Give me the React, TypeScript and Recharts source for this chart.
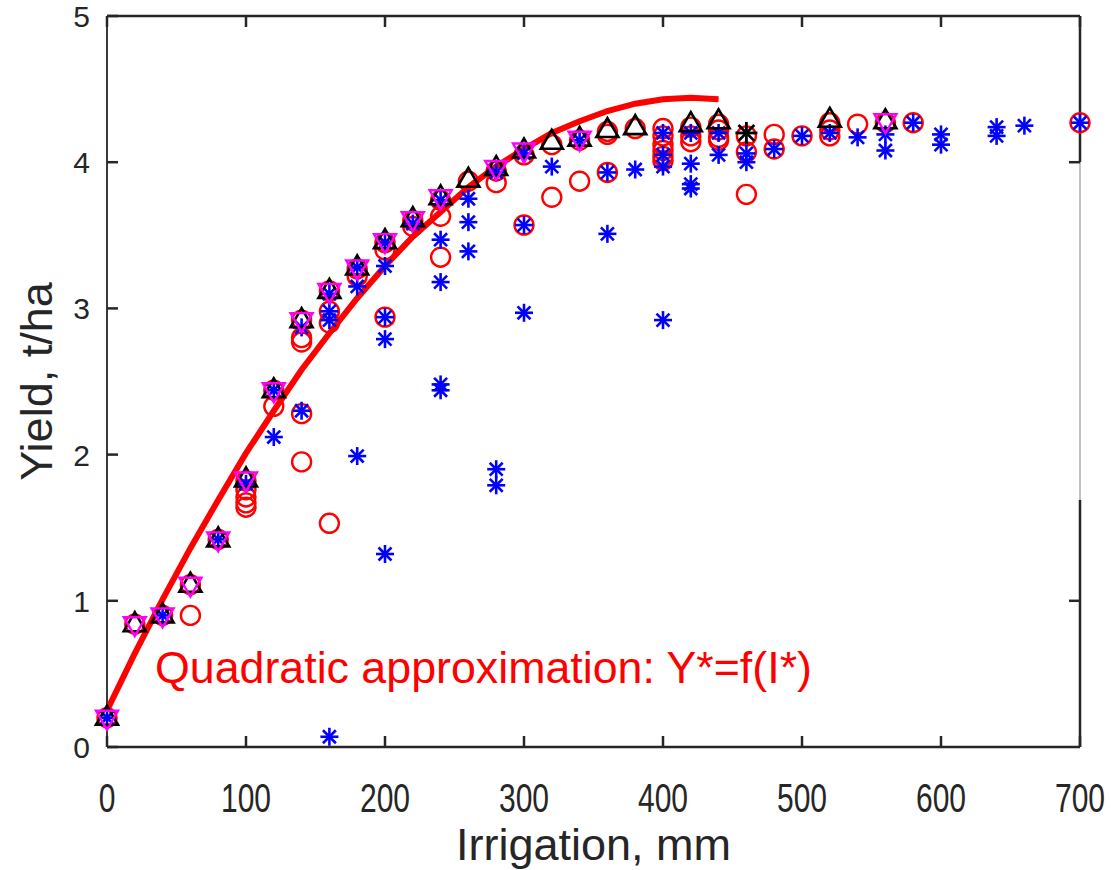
import React from 'react';
import { ScatterChart, Scatter, XAxis, YAxis, ReferenceLine, ReferenceDot } from 'recharts';

// ---------- data ----------
const xTicks = [0, 100, 200, 300, 400, 500, 600, 700];
const yTicks = [0, 1, 2, 3, 4, 5];
const rightTicks = [1, 4];

// black open up-triangles
const triUp: [number, number][] = [
  [0, 0.2], [20, 0.84], [40, 0.9], [60, 1.11], [80, 1.42], [100, 1.83], [120, 2.44],
  [140, 2.92], [160, 3.12], [180, 3.28], [200, 3.46], [220, 3.61], [240, 3.76],
  [260, 3.88], [280, 3.96], [300, 4.08], [320, 4.14], [340, 4.16], [360, 4.22],
  [380, 4.24], [420, 4.26], [440, 4.28], [520, 4.29], [560, 4.28],
];

// magenta open down-triangles
const triDown: [number, number][] = [
  [0, 0.2], [20, 0.84], [40, 0.9], [60, 1.11], [80, 1.42], [100, 1.83], [120, 2.44],
  [140, 2.92], [160, 3.12], [180, 3.28], [200, 3.46], [220, 3.61], [240, 3.76],
  [280, 3.96], [300, 4.08], [340, 4.16], [560, 4.28],
];

// red open circles
const circles: [number, number][] = [
  [0, 0.2], [20, 0.84], [40, 0.9], [60, 0.9], [60, 1.11], [80, 1.42],
  [100, 1.64], [100, 1.67], [100, 1.71], [100, 1.76], [100, 1.82],
  [120, 2.33], [120, 2.44],
  [140, 1.95], [140, 2.28], [140, 2.77], [140, 2.8], [140, 2.92],
  [160, 1.53], [160, 2.9], [160, 2.98], [160, 3.12],
  [180, 3.22], [180, 3.27],
  [200, 2.94], [200, 3.4], [200, 3.45],
  [220, 3.56], [220, 3.6],
  [240, 3.35], [240, 3.63], [240, 3.74],
  [260, 3.87],
  [280, 3.86], [280, 3.94],
  [300, 3.57], [300, 4.05],
  [320, 3.76], [320, 4.12],
  [340, 3.87], [340, 4.15],
  [360, 3.93], [360, 4.19], [360, 4.21],
  [380, 4.23],
  [400, 4.01], [400, 4.04], [400, 4.08], [400, 4.12], [400, 4.18], [400, 4.23],
  [420, 4.14], [420, 4.18], [420, 4.24],
  [440, 4.15], [440, 4.17], [440, 4.22], [440, 4.26],
  [460, 3.78], [460, 4.07], [460, 4.18],
  [480, 4.09], [480, 4.19],
  [500, 4.18],
  [520, 4.18], [520, 4.22], [520, 4.27],
  [540, 4.26], [560, 4.27], [580, 4.27], [700, 4.27],
];

// blue asterisks
const stars: [number, number][] = [
  [0, 0.2], [40, 0.9], [80, 1.42], [100, 1.8],
  [120, 2.12], [120, 2.44],
  [140, 2.3], [140, 2.87],
  [160, 0.07], [160, 2.92], [160, 2.98], [160, 3.1],
  [180, 1.99], [180, 3.15], [180, 3.28],
  [200, 1.32], [200, 2.79], [200, 2.94], [200, 3.29], [200, 3.45],
  [220, 3.58],
  [240, 2.44], [240, 2.48], [240, 3.18], [240, 3.47], [240, 3.74],
  [260, 3.39], [260, 3.59], [260, 3.75],
  [280, 1.79], [280, 1.9], [280, 3.93],
  [300, 2.97], [300, 3.57], [300, 4.06],
  [320, 3.97], [340, 4.15],
  [360, 3.51], [360, 3.93],
  [380, 3.95],
  [400, 2.92], [400, 3.97], [400, 4.05], [400, 4.2],
  [420, 3.82], [420, 3.85], [420, 3.99], [420, 4.2],
  [440, 4.05], [440, 4.2],
  [460, 4.0], [460, 4.06],
  [480, 4.09], [500, 4.18], [520, 4.2], [540, 4.17],
  [560, 4.08], [560, 4.19], [580, 4.27],
  [600, 4.12], [600, 4.19],
  [640, 4.18], [640, 4.24], [660, 4.25], [700, 4.27],
];

// black asterisk
const blackStars: [number, number][] = [[460, 4.2]];

// quadratic approximation curve
const curve: [number, number][] = [
  [0, 0.25], [20, 0.64], [40, 1.01], [60, 1.36], [80, 1.69], [100, 2.01],
  [120, 2.3], [140, 2.58], [160, 2.83], [180, 3.07], [200, 3.29], [220, 3.49],
  [240, 3.66], [260, 3.83], [280, 3.97], [300, 4.09], [320, 4.2], [340, 4.28],
  [360, 4.35], [380, 4.4], [400, 4.43], [420, 4.44], [440, 4.43],
];

const annotation = 'Quadratic approximation: Y*=f(I*)';
const xTitle = 'Irrigation, mm';
const yTitle = 'Yield, t/ha';

// ---------- helpers ----------
const toPts = (a: [number, number][]) => a.map(([x, y]) => ({ x, y }));

const FONT = '"Liberation Sans", Arial, sans-serif';
const AX = '#262626';

const CircleShape = (p: any) => (
  <circle cx={p.cx} cy={p.cy} r={9.5} fill="none" stroke="#ff0000" strokeWidth={2.4} />
);
const TriUpShape = (p: any) => {
  const { cx, cy } = p;
  return (
    <polygon
      points={`${cx},${cy - 12} ${cx - 11},${cy + 7} ${cx + 11},${cy + 7}`}
      fill="none" stroke="#000" strokeWidth={2.6} strokeLinejoin="miter"
    />
  );
};
const TriDownShape = (p: any) => {
  const { cx, cy } = p;
  return (
    <polygon
      points={`${cx - 11},${cy - 7} ${cx + 11},${cy - 7} ${cx},${cy + 12}`}
      fill="none" stroke="#ff00ff" strokeWidth={2.4}
    />
  );
};
const makeStar = (color: string, s: number, w: number) => (p: any) => {
  const { cx, cy } = p;
  const d = s * 0.72;
  return (
    <g stroke={color} strokeWidth={w}>
      <line x1={cx - s} y1={cy} x2={cx + s} y2={cy} />
      <line x1={cx} y1={cy - s} x2={cx} y2={cy + s} />
      <line x1={cx - d} y1={cy - d} x2={cx + d} y2={cy + d} />
      <line x1={cx - d} y1={cy + d} x2={cx + d} y2={cy - d} />
    </g>
  );
};
const BlueStar = makeStar('#0000ff', 9, 2.6);
const BlackStar = makeStar('#000000', 11, 2.8);
const NoShape = () => <g />;

const BottomTick = (p: any) => {
  const { x, y, payload } = p;
  return (
    <g>
      <line x1={x} y1={y} x2={x} y2={y - 11} stroke={AX} strokeWidth={2.5} />
      <text
        transform={`translate(${x} ${y + 65}) scale(0.75 1)`}
        textAnchor="middle" fontFamily={FONT} fontSize={40} fill="#262626"
      >
        {payload.value}
      </text>
    </g>
  );
};
const TopTick = (p: any) => {
  const { x, y } = p;
  return <line x1={x} y1={y} x2={x} y2={y + 11} stroke={AX} strokeWidth={2.5} />;
};
const LeftTick = (p: any) => {
  const { x, y, payload } = p;
  return (
    <g>
      <line x1={x} y1={y} x2={x + 11} y2={y} stroke={AX} strokeWidth={2.5} />
      <text
        x={x - 17} y={y + 11} textAnchor="end"
        fontFamily={FONT} fontSize={30} fill="#262626"
      >
        {payload.value}
      </text>
    </g>
  );
};
const RightTick = (p: any) => {
  const { x, y } = p;
  return <line x1={x} y1={y} x2={x - 11} y2={y} stroke={AX} strokeWidth={2.5} />;
};

const AnnotationShape = (p: any) => (
  <text
    x={p.cx} y={p.cy} textAnchor="start"
    fontFamily={FONT} fontSize={44} fill="#ff0000"
    textLength={657} lengthAdjust="spacingAndGlyphs"
  >
    {annotation}
  </text>
);

export default function App() {
  return (
    <div style={{ position: 'absolute', left: 0, top: 0, width: 1111, height: 870, background: '#fff' }}>
      <ScatterChart width={1111} height={870} margin={{ top: 15, right: 0, bottom: 0, left: 0 }}>
        <XAxis
          xAxisId="b" type="number" dataKey="x" domain={[0, 700]} ticks={xTicks}
          height={123} interval={0} tickSize={0} tickMargin={0}
          tickLine={false} tick={BottomTick}
          axisLine={{ stroke: AX, strokeWidth: 2.5 }}
          label={{
            value: xTitle, position: 'insideBottom', offset: 10,
            style: { fontFamily: FONT, fontSize: 45, fill: '#262626' },
          }}
        />
        <XAxis
          xAxisId="t" orientation="top" type="number" dataKey="x" domain={[0, 700]} ticks={xTicks}
          height={1} interval={0} tickSize={0} tickMargin={0}
          tickLine={false} tick={TopTick}
          axisLine={{ stroke: AX, strokeWidth: 2.5 }}
        />
        <YAxis
          yAxisId="l" type="number" dataKey="y" domain={[0, 5]} ticks={yTicks}
          width={107} interval={0} tickSize={0} tickMargin={0}
          tickLine={false} tick={LeftTick}
          axisLine={{ stroke: '#3a3a3a', strokeWidth: 2 }}
          label={{
            value: yTitle, angle: -90, position: 'insideLeft', offset: 36,
            style: { fontFamily: FONT, fontSize: 45, fill: '#262626', textAnchor: 'middle' },
          }}
        />
        <YAxis
          yAxisId="r" orientation="right" type="number" dataKey="y" domain={[0, 5]} ticks={rightTicks}
          width={31} interval={0} tickSize={0} tickMargin={0}
          tickLine={false} tick={RightTick} axisLine={false}
        />

        <ReferenceLine xAxisId="b" yAxisId="l" segment={[{ x: 700, y: 4 }, { x: 700, y: 5 }]} stroke={AX} strokeWidth={2.5} />
        <ReferenceLine xAxisId="b" yAxisId="l" segment={[{ x: 700, y: 1.69 }, { x: 700, y: 4 }]} stroke="#999" strokeWidth={1.2} />
        <ReferenceLine xAxisId="b" yAxisId="l" segment={[{ x: 700, y: 0 }, { x: 700, y: 1.69 }]} stroke={AX} strokeWidth={2.5} />

        <Scatter xAxisId="b" yAxisId="l" data={toPts(circles)} shape={CircleShape} isAnimationActive={false} />
        <Scatter
          xAxisId="b" yAxisId="l" data={toPts(curve)} shape={NoShape}
          line={{ stroke: '#ff0000', strokeWidth: 6 }} lineType="joint"
          isAnimationActive={false}
        />
        <Scatter xAxisId="b" yAxisId="l" data={toPts(stars)} shape={BlueStar} isAnimationActive={false} />
        <Scatter xAxisId="b" yAxisId="l" data={toPts(triUp)} shape={TriUpShape} isAnimationActive={false} />
        <Scatter xAxisId="b" yAxisId="l" data={toPts(triDown)} shape={TriDownShape} isAnimationActive={false} />
        <Scatter xAxisId="t" yAxisId="r" data={toPts(blackStars)} shape={BlackStar} isAnimationActive={false} />

        <ReferenceDot xAxisId="b" yAxisId="l" x={34.5} y={0.438} r={1} shape={AnnotationShape} />
      </ScatterChart>
    </div>
  );
}
